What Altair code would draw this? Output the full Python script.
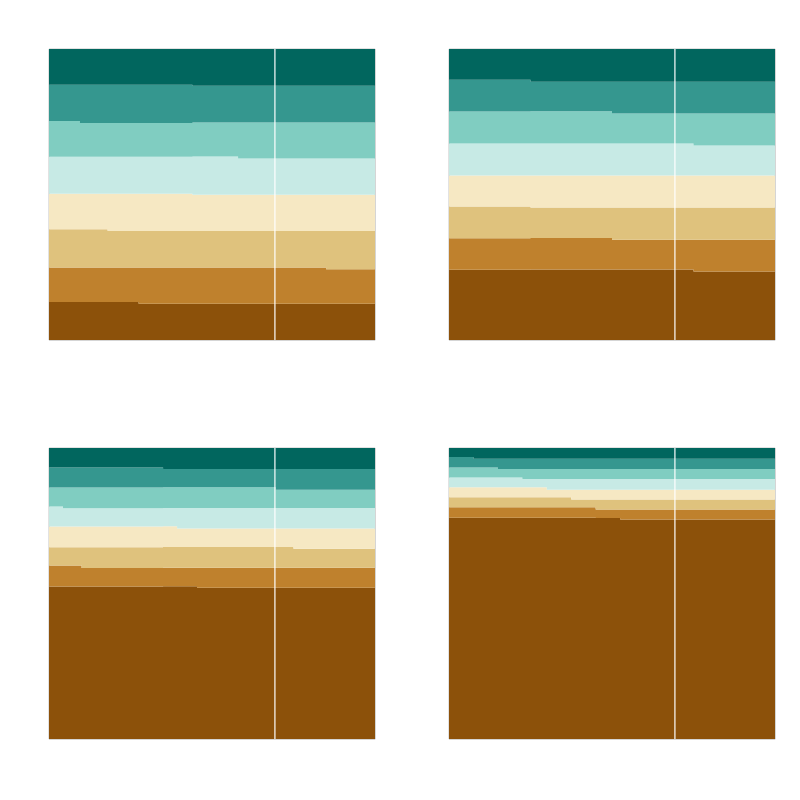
import altair as alt
import pandas as pd

# Layers from bottom (brown) to top (dark teal)
LAYERS = ["L1", "L2", "L3", "L4", "L5", "L6", "L7", "L8"]
COLORS = ["#8c510a", "#bf812d", "#dfc27d", "#f6e8c3",
          "#c7eae5", "#80cdc1", "#35978f", "#01665e"]
MARKER_T = 69.3

# Panel A (top-left)
A_T = [0, 9.5, 18, 27.5, 44, 58, 85, 100]
A_VALUES = {
    "L1": [13.1, 13.1, 13.1, 12.5, 12.5, 12.5, 12.5, 12.5],
    "L2": [11.8, 11.8, 11.8, 12.4, 12.4, 12.4, 11.8, 11.8],
    "L3": [13.2, 13.2, 12.6, 12.6, 12.6, 12.6, 13.2, 13.2],
    "L4": [12.2, 12.2, 12.8, 12.8, 12.4, 12.4, 12.4, 12.4],
    "L5": [12.7, 12.7, 12.7, 12.7, 13.2, 12.5, 12.5, 12.5],
    "L6": [12.3, 11.6, 11.6, 11.6, 11.6, 12.3, 12.3, 12.3],
    "L7": [12.4, 13.1, 13.1, 13.1, 12.7, 12.7, 12.7, 12.7],
    "L8": [12.3, 12.3, 12.3, 12.3, 12.6, 12.6, 12.6, 12.6],
}

# Panel B (top-right)
B_T = [0, 25, 50, 75, 100]
B_VALUES = {
    "L1": [24.2, 24.2, 24.2, 23.5, 23.5],
    "L2": [10.8, 10.8, 10.2, 10.9, 10.9],
    "L3": [10.9, 10.5, 11.1, 11.1, 11.1],
    "L4": [10.7, 11.0, 11.0, 11.0, 11.0],
    "L5": [11.0, 11.0, 11.0, 10.3, 10.3],
    "L6": [11.0, 11.0, 10.3, 11.0, 11.0],
    "L7": [10.9, 10.2, 10.9, 10.9, 10.9],
    "L8": [10.6, 11.2, 11.2, 11.2, 11.2],
}

# Panel C (bottom-left)
C_T = [0, 4.3, 10, 35, 39.3, 45.4, 69.5, 75, 100]
C_VALUES = {
    "L1": [52.4, 52.4, 52.4, 52.4, 52.4, 51.9, 51.9, 51.9, 51.9],
    "L2": [7.2, 7.2, 6.4, 6.4, 6.4, 6.9, 6.9, 6.9, 6.9],
    "L3": [6.3, 6.3, 7.1, 7.1, 7.1, 7.1, 7.1, 6.5, 6.5],
    "L4": [7.1, 7.1, 7.1, 7.1, 6.4, 6.4, 6.4, 7.0, 7.0],
    "L5": [6.9, 6.3, 6.3, 6.3, 7.0, 7.0, 7.0, 7.0, 7.0],
    "L6": [6.5, 7.1, 7.1, 7.1, 7.1, 7.1, 6.3, 6.3, 6.3],
    "L7": [6.9, 6.9, 6.9, 6.3, 6.3, 6.3, 7.1, 7.1, 7.1],
    "L8": [6.7, 6.7, 6.7, 7.2, 7.2, 7.2, 7.2, 7.2, 7.2],
}

# Panel D (bottom-right)
D_T = [0, 7.5, 15, 22.5, 30, 37.5, 45, 52.5, 100]
D_VALUES = {
    "L1": [75.9, 75.9, 75.9, 75.9, 75.9, 75.9, 75.9, 75.3, 75.3],
    "L2": [3.6, 3.6, 3.6, 3.6, 3.6, 3.6, 2.9, 3.4, 3.4],
    "L3": [3.4, 3.4, 3.4, 3.4, 3.4, 2.6, 3.4, 3.4, 3.4],
    "L4": [3.4, 3.4, 3.4, 3.4, 2.6, 3.4, 3.4, 3.4, 3.4],
    "L5": [3.4, 3.4, 3.4, 2.9, 3.7, 3.7, 3.7, 3.7, 3.7],
    "L6": [3.4, 3.4, 2.9, 3.4, 3.4, 3.4, 3.4, 3.4, 3.4],
    "L7": [3.6, 3.0, 3.5, 3.5, 3.5, 3.5, 3.5, 3.5, 3.5],
    "L8": [3.1, 3.7, 3.7, 3.7, 3.7, 3.7, 3.7, 3.7, 3.7],
}


def panel(ts, values):
    rows = []
    for i, name in enumerate(LAYERS):
        for t, v in zip(ts, values[name]):
            rows.append({"t": t, "value": v, "layer": name, "idx": i})
    df = pd.DataFrame(rows)
    xscale = alt.Scale(domain=[0, 100], nice=False, zero=False)
    area = alt.Chart(df).mark_area(interpolate="step-after").encode(
        x=alt.X("t:Q", axis=None, scale=xscale),
        y=alt.Y("value:Q", stack="normalize", axis=None,
                scale=alt.Scale(domain=[0, 1], nice=False)),
        color=alt.Color("layer:N", legend=None,
                        scale=alt.Scale(domain=LAYERS, range=COLORS)),
        order=alt.Order("idx:Q"),
    )
    rule = alt.Chart(pd.DataFrame({"t": [MARKER_T]})).mark_rule(
        color="white", strokeWidth=1.2
    ).encode(x=alt.X("t:Q", axis=None, scale=xscale))
    return alt.layer(area, rule).properties(width=326, height=291)


chart = alt.vconcat(
    alt.hconcat(panel(A_T, A_VALUES), panel(B_T, B_VALUES), spacing=72),
    alt.hconcat(panel(C_T, C_VALUES), panel(D_T, D_VALUES), spacing=72),
    spacing=106,
).properties(
    padding={"left": 48, "top": 48, "right": 0, "bottom": 0},
    background="white",
).configure_view(stroke="#888888", strokeWidth=0.6)

chart.save("out.html", embed_options={"renderer": "svg", "actions": False})
